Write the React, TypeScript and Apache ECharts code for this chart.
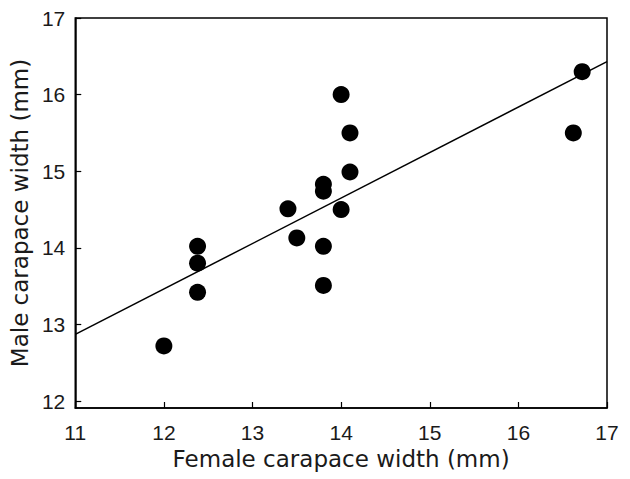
import React, { useEffect, useRef } from "react";
import * as echarts from "echarts";

const femaleWidth = [12.0, 12.38, 12.38, 12.38, 13.4, 13.5, 13.8, 13.8, 13.8, 13.8, 14.0, 14.0, 14.1, 14.1, 16.62, 16.72];
const maleWidth = [12.72, 14.02, 13.8, 13.42, 14.51, 14.13, 14.83, 14.74, 14.02, 13.51, 16.0, 14.5, 15.5, 14.99, 15.5, 16.3];
const regressionX = [11, 17];
const regressionY = [12.87, 16.43];
const xTicks = [11, 12, 13, 14, 15, 16, 17];
const yTicks = [12, 13, 14, 15, 16, 17];

export default function App() {
  const ref = useRef<HTMLDivElement>(null);
  useEffect(() => {
    if (!ref.current) return;
    const chart = echarts.init(ref.current, null, { renderer: "svg" });
    const labelFont = "'Liberation Sans', Arial, sans-serif";
    const titleFont = "'DejaVu Sans', 'Liberation Sans', sans-serif";
    chart.setOption({
      animation: false,
      backgroundColor: "#ffffff",
      grid: {
        left: 71,
        right: 23,
        top: 18,
        bottom: 71,
        show: true,
        borderColor: "#000",
        borderWidth: 1.5,
        backgroundColor: "transparent",
      },
      xAxis: {
        type: "value",
        min: xTicks[0],
        max: xTicks[xTicks.length - 1],
        interval: 1,
        name: "Female carapace width (mm)",
        nameLocation: "middle",
        nameGap: 36,
        nameTextStyle: { fontFamily: titleFont, fontSize: 23, color: "#1a1a1a" },
        axisLine: { show: true, lineStyle: { color: "#000", width: 1.5 } },
        axisTick: { show: true, inside: true, length: 6, lineStyle: { color: "#000", width: 1.2 } },
        axisLabel: { fontFamily: labelFont, fontSize: 21, color: "#1a1a1a", margin: 14 },
        splitLine: { show: false },
      },
      yAxis: {
        type: "value",
        min: 11.91,
        max: yTicks[yTicks.length - 1],
        name: "Male carapace width (mm)",
        nameLocation: "middle",
        nameGap: 29,
        nameTextStyle: { fontFamily: titleFont, fontSize: 23, color: "#1a1a1a" },
        axisLine: { show: true, lineStyle: { color: "#000", width: 1.5 } },
        axisTick: {
          show: true,
          inside: true,
          length: 6,
          customValues: yTicks,
          lineStyle: { color: "#000", width: 1.2 },
        },
        axisLabel: {
          fontFamily: labelFont,
          fontSize: 21,
          color: "#1a1a1a",
          margin: 10,
          customValues: yTicks,
        },
        splitLine: { show: false },
      },
      series: [
        {
          type: "line",
          data: regressionX.map((x, i) => [x, regressionY[i]]),
          showSymbol: false,
          symbol: "none",
          lineStyle: { color: "#000", width: 1.5 },
          silent: true,
        },
        {
          type: "scatter",
          data: femaleWidth.map((x, i) => [x, maleWidth[i]]),
          symbol: "circle",
          symbolSize: 17,
          itemStyle: { color: "#000", opacity: 1 },
        },
      ],
    });
    return () => chart.dispose();
  }, []);
  return (
    <div
      ref={ref}
      style={{ position: "fixed", left: 0, top: 0, width: 630, height: 479, background: "#fff" }}
    />
  );
}
